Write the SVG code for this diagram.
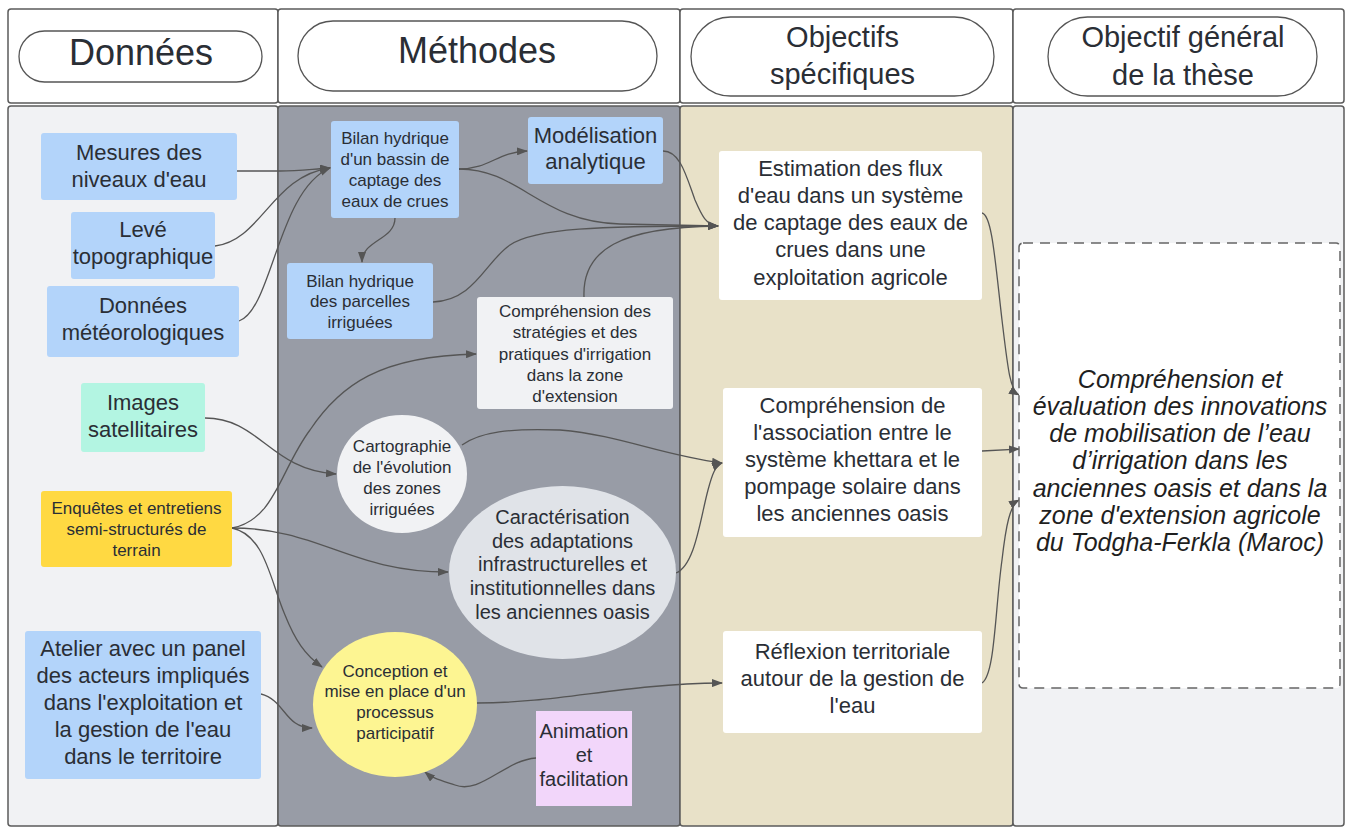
<svg xmlns="http://www.w3.org/2000/svg" width="1350" height="827" viewBox="0 0 1350 827">
<defs>
<style>
text{font-family:"Liberation Sans",Arial,sans-serif;fill:#2a2e35;text-anchor:middle}
.hd{fill:#ffffff;stroke:#5b5b5b;stroke-width:1.5}
.pill{fill:#ffffff;stroke:#555555;stroke-width:1.3}
.col{stroke:#5b5b5b;stroke-width:1.5}
.h36{font-size:36px}
.h29{font-size:29px}
.t22{font-size:22px}
.t20{font-size:20px}
.t17{font-size:17px}
.blue{fill:#b3d4fa}
.conn path{fill:none;stroke:#555555;stroke-width:1.3;marker-end:url(#arr)}
.it{font-size:25px;font-style:italic;fill:#1f1f1f}
</style>
<marker id="arr" markerWidth="11" markerHeight="8" refX="10" refY="4" orient="auto" markerUnits="userSpaceOnUse"><path d="M0,0 L11,4 L0,8 z" fill="#555555"/></marker>
</defs>
<rect x="0" y="0" width="1350" height="827" fill="#ffffff"/>

<g id="columns">
  <rect class="hd" x="8" y="9" width="270" height="94" rx="3"/>
  <rect class="hd" x="278" y="9" width="402" height="94" rx="3"/>
  <rect class="hd" x="680" y="9" width="333" height="94" rx="3"/>
  <rect class="hd" x="1013" y="9" width="331" height="94" rx="3"/>
  <rect class="col" x="8" y="106" width="270" height="720" rx="3" fill="#f1f2f4"/>
  <rect class="col" x="278" y="106" width="402" height="720" rx="3" fill="#989ca6"/>
  <rect class="col" x="680" y="106" width="333" height="720" rx="3" fill="#e8e1c8"/>
  <rect class="col" x="1013" y="106" width="331" height="720" rx="3" fill="#f1f2f4"/>
</g>

<g id="header-donnees">
  <rect class="pill" x="19" y="31" width="243" height="51" rx="25.5"/>
  <text class="h36" x="141" y="65">Données</text>
</g>
<g id="header-methodes">
  <rect class="pill" x="298" y="21" width="359" height="70" rx="35"/>
  <text class="h36" x="477" y="63">Méthodes</text>
</g>
<g id="header-objectifs">
  <rect class="pill" x="691" y="17" width="303" height="79" rx="39.5"/>
  <text class="h29"><tspan x="842.5" y="47">Objectifs</tspan><tspan x="842.5" y="84">spécifiques</tspan></text>
</g>
<g id="header-general">
  <rect class="pill" x="1048" y="17" width="269" height="79" rx="39.5"/>
  <text class="h29"><tspan x="1183" y="47">Objectif général</tspan><tspan x="1183" y="85">de la thèse</tspan></text>
</g>

<g class="conn" id="connectors">
  <path d="M237,171 L280,171 C300,171 312,169 330,168"/>
  <path d="M215,246 C262,240 272,176 330,168"/>
  <path d="M239,321 C272,310 278,190 330,168"/>
  <path d="M459,169 C490,169 497,152 527,151"/>
  <path d="M459,169 C520,169 540,222 620,224 L718,226"/>
  <path d="M395,218 C395,240 362,240 362,262"/>
  <path d="M433,302 C475,300 485,262 510,245 C535,228 600,226 718,226"/>
  <path d="M584,297 C582,250 620,227 718,226"/>
  <path d="M663,151 C680,151 686,175 695,200 C702,216 706,225 718,226"/>
  <path d="M205,418 C260,418 270,470 336,474"/>
  <path d="M232,528 C275,520 280,470 310,430 C340,385 380,356 476,354"/>
  <path d="M232,528 C320,528 350,572 448,572"/>
  <path d="M232,528 C265,535 270,580 285,615 C295,640 305,655 322,667"/>
  <path d="M261,694 C285,700 285,728 312,728"/>
  <path d="M462,445 C480,432 510,428 560,430 C620,435 660,455 722,463"/>
  <path d="M676,573 C695,565 700,520 708,490 C712,475 715,466 722,463"/>
  <path d="M477,703 C560,703 620,684 722,683"/>
  <path d="M536,758 C505,760 480,795 455,785 C440,780 432,778 425,772"/>
  <path d="M982,213 C992,215 995,260 1002,320 C1008,370 1010,390 1019,395"/>
  <path d="M982,451 L1019,449"/>
  <path d="M982,683 C995,675 995,610 1002,560 C1006,525 1010,505 1019,500"/>
</g>

<g id="mesures">
  <rect class="blue" x="41" y="133" width="196" height="67" rx="3"/>
  <text class="t22"><tspan x="139" y="160">Mesures des</tspan><tspan x="139" y="187">niveaux d'eau</tspan></text>
</g>
<g id="leve">
  <rect class="blue" x="71" y="212" width="144" height="67" rx="3"/>
  <text class="t22"><tspan x="143" y="237">Levé</tspan><tspan x="143" y="264">topographique</tspan></text>
</g>
<g id="meteo">
  <rect class="blue" x="47" y="286" width="192" height="71" rx="3"/>
  <text class="t22"><tspan x="143" y="313">Données</tspan><tspan x="143" y="340">météorologiques</tspan></text>
</g>
<g id="images">
  <rect x="81" y="383" width="124" height="69" rx="3" fill="#b3f5e2"/>
  <text class="t22"><tspan x="143" y="410">Images</tspan><tspan x="143" y="437">satellitaires</tspan></text>
</g>
<g id="enquetes">
  <rect x="41" y="491" width="191" height="76" rx="3" fill="#ffd942"/>
  <text class="t17"><tspan x="136.5" y="514">Enquêtes et entretiens</tspan><tspan x="136.5" y="535">semi-structurés de</tspan><tspan x="136.5" y="556">terrain</tspan></text>
</g>
<g id="atelier">
  <rect class="blue" x="25" y="631" width="236" height="148" rx="3"/>
  <text class="t22"><tspan x="143" y="656">Atelier avec un panel</tspan><tspan x="143" y="683">des acteurs impliqués</tspan><tspan x="143" y="710">dans l'exploitation et</tspan><tspan x="143" y="737">la gestion de l'eau</tspan><tspan x="143" y="764">dans le territoire</tspan></text>
</g>

<g id="bilan-bassin">
  <rect class="blue" x="331" y="121" width="128" height="97" rx="3"/>
  <text class="t17"><tspan x="395" y="144">Bilan hydrique</tspan><tspan x="395" y="165">d'un bassin de</tspan><tspan x="395" y="186">captage des</tspan><tspan x="395" y="207">eaux de crues</tspan></text>
</g>
<g id="modelisation">
  <rect class="blue" x="528" y="117" width="135" height="67" rx="3"/>
  <text class="t22"><tspan x="595.5" y="143">Modélisation</tspan><tspan x="595.5" y="169">analytique</tspan></text>
</g>
<g id="bilan-parcelles">
  <rect class="blue" x="287" y="263" width="146" height="76" rx="3"/>
  <text class="t17"><tspan x="360" y="287">Bilan hydrique</tspan><tspan x="360" y="307">des parcelles</tspan><tspan x="360" y="328">irriguées</tspan></text>
</g>
<g id="strategies">
  <rect x="477" y="297" width="196" height="112" rx="3" fill="#f1f2f4"/>
  <text class="t17"><tspan x="575" y="317">Compréhension des</tspan><tspan x="575" y="338">stratégies et des</tspan><tspan x="575" y="359.5">pratiques d'irrigation</tspan><tspan x="575" y="381">dans la zone</tspan><tspan x="575" y="402">d'extension</tspan></text>
</g>
<g id="cartographie">
  <ellipse cx="402" cy="474" rx="65" ry="59" fill="#f1f2f4"/>
  <text class="t17"><tspan x="402" y="452">Cartographie</tspan><tspan x="402" y="473">de l'évolution</tspan><tspan x="402" y="494">des zones</tspan><tspan x="402" y="515">irriguées</tspan></text>
</g>
<g id="caracterisation">
  <ellipse cx="562.5" cy="572.5" rx="113.5" ry="86.5" fill="#e0e3e8"/>
  <text class="t20"><tspan x="562.5" y="524">Caractérisation</tspan><tspan x="562.5" y="548">des adaptations</tspan><tspan x="562.5" y="571">infrastructurelles et</tspan><tspan x="562.5" y="595">institutionnelles dans</tspan><tspan x="562.5" y="619">les anciennes oasis</tspan></text>
</g>
<g id="conception">
  <ellipse cx="395" cy="704.5" rx="82" ry="72.5" fill="#fdf592"/>
  <text class="t17"><tspan x="395" y="677">Conception et</tspan><tspan x="395" y="697">mise en place d'un</tspan><tspan x="395" y="718">processus</tspan><tspan x="395" y="739">participatif</tspan></text>
</g>
<g id="animation">
  <rect x="536" y="711" width="96" height="95" fill="#f2d6fa"/>
  <text class="t20"><tspan x="584" y="738">Animation</tspan><tspan x="584" y="762">et</tspan><tspan x="584" y="786">facilitation</tspan></text>
</g>

<g id="estimation">
  <rect x="719" y="151" width="263" height="149" rx="3" fill="#ffffff"/>
  <text class="t22"><tspan x="850.5" y="176">Estimation des flux</tspan><tspan x="850.5" y="203">d'eau dans un système</tspan><tspan x="850.5" y="230">de captage des eaux de</tspan><tspan x="850.5" y="257">crues dans une</tspan><tspan x="850.5" y="285">exploitation agricole</tspan></text>
</g>
<g id="association">
  <rect x="723" y="388" width="259" height="149" rx="3" fill="#ffffff"/>
  <text class="t22"><tspan x="852.5" y="413">Compréhension de</tspan><tspan x="852.5" y="440">l'association entre le</tspan><tspan x="852.5" y="467">système khettara et le</tspan><tspan x="852.5" y="494">pompage solaire dans</tspan><tspan x="852.5" y="521">les anciennes oasis</tspan></text>
</g>
<g id="reflexion">
  <rect x="723" y="631" width="259" height="102" rx="3" fill="#ffffff"/>
  <text class="t22"><tspan x="852.5" y="659">Réflexion territoriale</tspan><tspan x="852.5" y="686">autour de la gestion de</tspan><tspan x="852.5" y="713">l'eau</tspan></text>
</g>

<g id="objectif-general">
  <rect x="1019" y="243" width="321" height="445" rx="4" fill="#ffffff" stroke="#666666" stroke-width="1.5" stroke-dasharray="10,7"/>
  <text class="it"><tspan x="1180" y="388">Compréhension et</tspan><tspan x="1180" y="415">évaluation des innovations</tspan><tspan x="1180" y="442">de mobilisation de l’eau</tspan><tspan x="1180" y="469">d’irrigation dans les</tspan><tspan x="1180" y="497">anciennes oasis et dans la</tspan><tspan x="1180" y="524">zone d'extension agricole</tspan><tspan x="1180" y="551">du Todgha-Ferkla (Maroc)</tspan></text>
</g>
</svg>
